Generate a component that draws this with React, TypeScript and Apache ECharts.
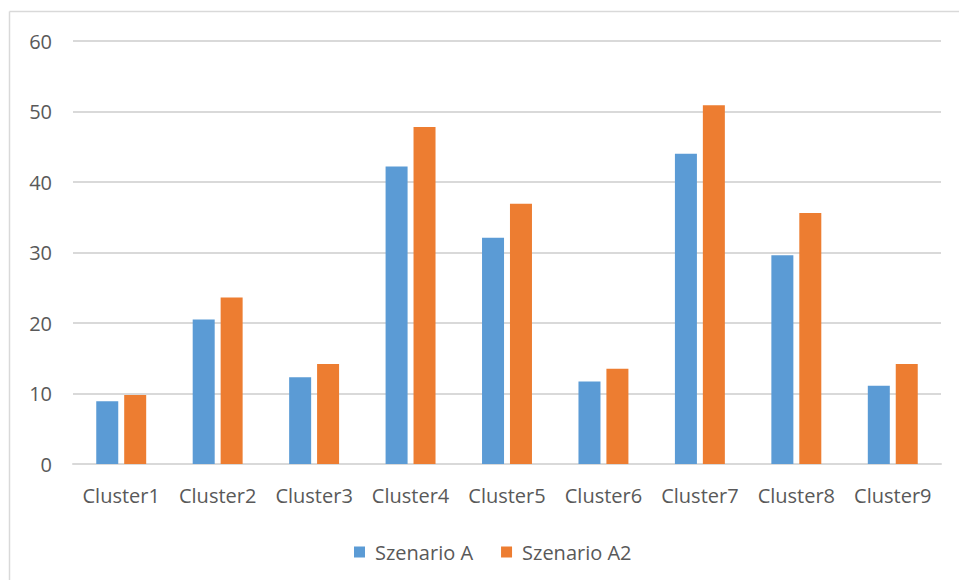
import React, { useEffect, useRef } from "react";
import * as echarts from "echarts";

const categories = ["Cluster1", "Cluster2", "Cluster3", "Cluster4", "Cluster5", "Cluster6", "Cluster7", "Cluster8", "Cluster9"];
const szenarioA = [8.9, 20.5, 12.3, 42.2, 32.1, 11.7, 44.0, 29.6, 11.1];
const szenarioA2 = [9.8, 23.6, 14.2, 47.8, 36.9, 13.5, 50.9, 35.6, 14.2];
const seriesNames = ["Szenario A", "Szenario A2"];

export default function App() {
  const ref = useRef<HTMLDivElement>(null);
  useEffect(() => {
    if (!ref.current) return;
    const chart = echarts.init(ref.current, undefined, { renderer: "svg" });
    const font = "'Open Sans', sans-serif";
    chart.setOption({
      animation: false,
      backgroundColor: "#ffffff",
      textStyle: { fontFamily: font },
      graphic: [
        { type: "line", shape: { x1: 9.5, y1: 11.5, x2: 959, y2: 11.5 }, style: { stroke: "#d9d9d9", lineWidth: 1.5 } },
        { type: "line", shape: { x1: 9.5, y1: 11.5, x2: 9.5, y2: 580 }, style: { stroke: "#d9d9d9", lineWidth: 1.5 } },
      ],
      grid: { left: 73, right: 18, top: 41, bottom: 116 },
      legend: {
        top: 537,
        left: 349,
        itemWidth: 11,
        itemHeight: 11,
        itemGap: 28,
        icon: "rect",
        textStyle: { color: "#595959", fontSize: 20, fontFamily: font, padding: [0, 0, 0, 5] },
        data: seriesNames,
      },
      xAxis: {
        type: "category",
        data: categories,
        axisLine: { lineStyle: { color: "#d9d9d9", width: 2 } },
        axisTick: { show: false },
        axisLabel: { color: "#595959", fontSize: 20, margin: 21, fontFamily: font, interval: 0 },
      },
      yAxis: {
        type: "value",
        min: 0,
        max: 60,
        interval: 10,
        axisLine: { show: false },
        axisTick: { show: false },
        splitLine: { lineStyle: { color: "#d9d9d9", width: 2 } },
        axisLabel: { color: "#595959", fontSize: 20, margin: 21, fontFamily: font },
      },
      series: [
        {
          name: seriesNames[0],
          type: "bar",
          data: szenarioA,
          barWidth: 22,
          barGap: "27%",
          itemStyle: { color: "#5b9bd5" },
        },
        {
          name: seriesNames[1],
          type: "bar",
          data: szenarioA2,
          barWidth: 22,
          barGap: "27%",
          itemStyle: { color: "#ed7d31" },
        },
      ],
    });
    return () => chart.dispose();
  }, []);
  return <div ref={ref} style={{ width: 959, height: 580, position: "absolute", left: 0, top: 0 }} />;
}
